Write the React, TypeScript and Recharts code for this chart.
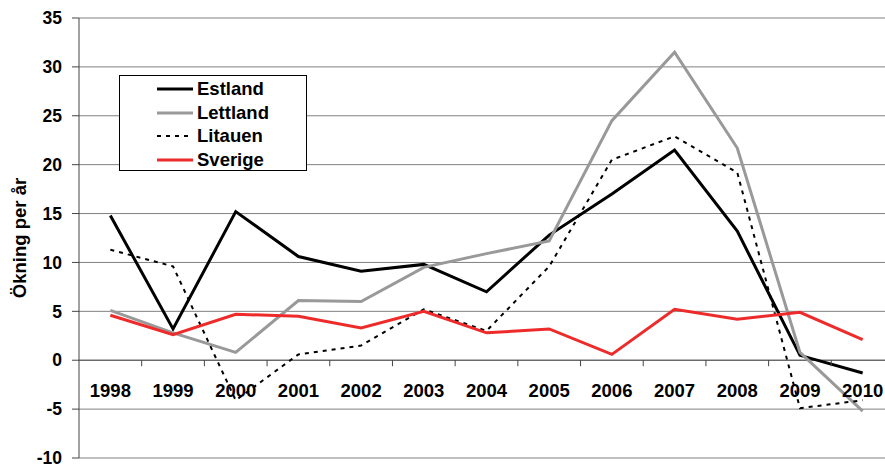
import React from 'react';
import { LineChart, Line, XAxis, YAxis, CartesianGrid, ReferenceLine, Legend } from 'recharts';

const years = ['1998', '1999', '2000', '2001', '2002', '2003', '2004', '2005', '2006', '2007', '2008', '2009', '2010'];
const estland = [14.8, 3.2, 15.2, 10.6, 9.1, 9.8, 7.0, 12.8, 17.0, 21.5, 13.2, 0.5, -1.3];
const lettland = [5.1, 2.8, 0.8, 6.1, 6.0, 9.5, 10.9, 12.2, 24.5, 31.5, 21.7, 0.8, -5.2];
const litauen = [11.3, 9.6, -4.1, 0.6, 1.5, 5.2, 3.0, 9.6, 20.5, 22.9, 19.2, -4.9, -4.1];
const sverige = [4.6, 2.6, 4.7, 4.5, 3.3, 5.0, 2.8, 3.2, 0.6, 5.2, 4.2, 4.9, 2.1];
const yTicks = [-10, -5, 0, 5, 10, 15, 20, 25, 30, 35];
const yLabel = 'Ökning per år';

const series = [
  { key: 'Estland', values: estland, color: '#000000', width: 3, dash: undefined as string | undefined },
  { key: 'Lettland', values: lettland, color: '#999999', width: 3, dash: undefined },
  { key: 'Litauen', values: litauen, color: '#000000', width: 2, dash: '4 5' },
  { key: 'Sverige', values: sverige, color: '#ee2b2b', width: 3, dash: undefined },
];

const data = years.map((y, i) => {
  const row: Record<string, string | number> = { year: y };
  series.forEach((s) => { row[s.key] = s.values[i]; });
  return row;
});

const FONT = '"Liberation Sans", Arial, sans-serif';
const CHART_W = 900;
const CHART_H = 464;
const M = { top: 18, right: 6, bottom: 5, left: 0 };
const X_AXIS_H = 1;
const Y_AXIS_W = 79;
const Y_MIN = -10;
const Y_MAX = 35;
const PLOT_W = CHART_W - M.left - M.right - Y_AXIS_W;
const PLOT_H = CHART_H - M.top - M.bottom - X_AXIS_H;
const BAND = PLOT_W / years.length;
const ZERO_Y = M.top + (PLOT_H * (Y_MAX - 0)) / (Y_MAX - Y_MIN);

const XTick = (props: any) => {
  const { x, payload } = props;
  return (
    <g>
      <line x1={x + BAND / 2} x2={x + BAND / 2} y1={ZERO_Y} y2={ZERO_Y + 6} stroke="#444" strokeWidth={1} />
      <text x={x} y={ZERO_Y + 37} textAnchor="middle" fontFamily={FONT} fontWeight="bold" fontSize={18.5} fill="#000">
        {payload.value}
      </text>
    </g>
  );
};

const renderLegend = () => (
  <div
    style={{
      width: 188,
      height: 96,
      boxSizing: 'border-box',
      border: '1px solid #000',
      background: '#fff',
      paddingTop: 1,
    }}
  >
    {series.map((s) => (
      <div key={s.key} style={{ display: 'flex', alignItems: 'center', height: 23.7, marginLeft: 37 }}>
        <svg width={37} height={6} style={{ display: 'block' }}>
          <line x1={0} x2={36} y1={3} y2={3} stroke={s.color} strokeWidth={s.width} strokeDasharray={s.dash} />
        </svg>
        <span style={{ fontFamily: FONT, fontWeight: 'bold', fontSize: 18.5, color: '#000', marginLeft: 3, lineHeight: '20px' }}>
          {s.key}
        </span>
      </div>
    ))}
  </div>
);

export default function App() {
  return (
    <div style={{ position: 'absolute', left: 0, top: 0, width: 885, height: 464, overflow: 'hidden', background: '#fff' }}>
      <LineChart width={CHART_W} height={CHART_H} data={data} margin={M}>
        <CartesianGrid vertical={false} stroke="#808080" strokeWidth={1} />
        <XAxis
          dataKey="year"
          scale="band"
          interval={0}
          axisLine={false}
          tickLine={false}
          height={X_AXIS_H}
          tick={<XTick />}
        />
        <YAxis
          domain={[Y_MIN, Y_MAX]}
          ticks={yTicks}
          interval={0}
          width={Y_AXIS_W}
          axisLine={{ stroke: '#444', strokeWidth: 1 }}
          tickLine={{ stroke: '#444', strokeWidth: 1 }}
          tickSize={7}
          tickMargin={10}
          tick={{ fontFamily: FONT, fontWeight: 'bold', fontSize: 17.5, fill: '#000' }}
          label={{
            value: yLabel,
            angle: -90,
            position: 'center',
            dx: -20,
            style: { fontFamily: FONT, fontWeight: 'bold', fontSize: 18.5, fill: '#000' },
          }}
        />
        <ReferenceLine y={0} stroke="#555" strokeWidth={1} />
        <Legend
          layout="vertical"
          align="center"
          verticalAlign="middle"
          content={renderLegend}
          wrapperStyle={{ left: 119, top: 75, width: 188, height: 96 }}
        />
        {series.map((s) => (
          <Line
            key={s.key}
            type="linear"
            dataKey={s.key}
            stroke={s.color}
            strokeWidth={s.width}
            strokeDasharray={s.dash}
            dot={false}
            activeDot={false}
            isAnimationActive={false}
          />
        ))}
      </LineChart>
    </div>
  );
}
